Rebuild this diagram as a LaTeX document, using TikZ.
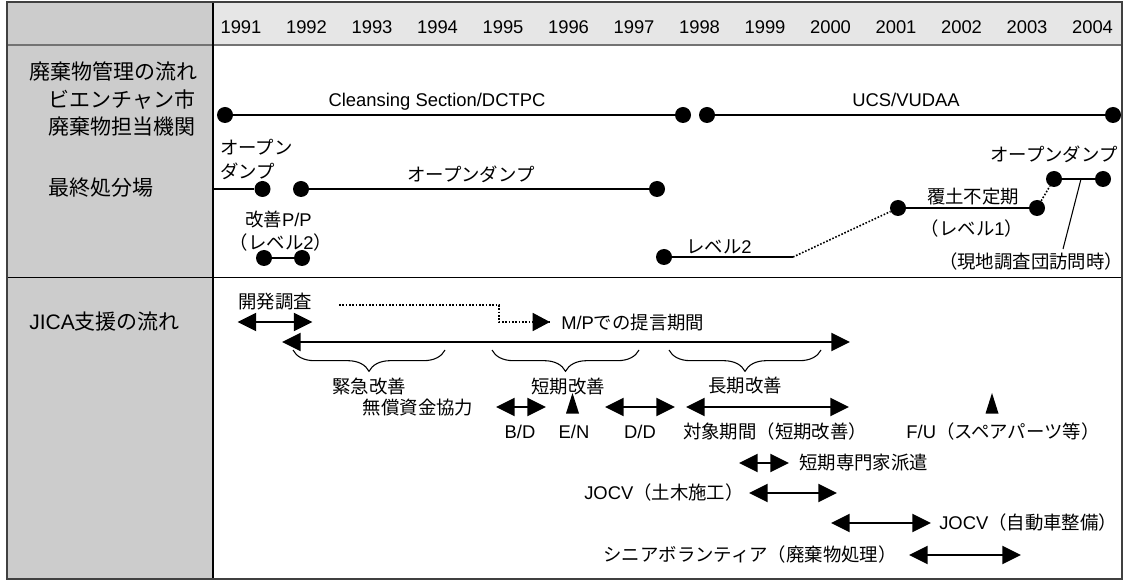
\documentclass[tikz,border=0pt]{standalone}
\usepackage{fontspec}
\setmainfont{Liberation Sans}
\newfontfamily\jp{Noto Sans CJK JP}
\newcommand{\J}[1]{{\jp #1}}
\usetikzlibrary{arrows.meta,decorations.pathreplacing}
\definecolor{colgray}{HTML}{CCCCCC}
\definecolor{headgray}{HTML}{E6E6E6}
\definecolor{framegray}{HTML}{404040}
\tikzset{
  txt/.style={inner sep=0pt, text height=12pt, text depth=2pt, font=\fontsize{13.8pt}{16pt}\selectfont},
  lbl/.style={inner sep=0pt, anchor=west, text height=13.5pt, text depth=2.3pt, font=\fontsize{15.75pt}{18pt}\selectfont},
  dot/.style={circle, fill=black, inner sep=0pt, minimum size=12pt},
  seg/.style={line width=1.6pt},
  dotline/.style={line width=1.2pt, dash pattern=on 1.2pt off 1.3pt},
  dbl/.style={line width=1.6pt, {Triangle[length=14pt,width=13.5pt]}-{Triangle[length=14pt,width=13.5pt]}},
  brc/.style={line width=0.8pt, decorate, decoration={brace, mirror, amplitude=16pt}},
}
\begin{document}
\begin{tikzpicture}[x=0.75pt,y=-0.75pt]
\useasboundingbox (0,0) rectangle (1123,580);
% backgrounds
\fill[white] (0,0) rectangle (1123,580);
\fill[colgray] (7,2) rectangle (213,579);
\fill[headgray] (213,2) rectangle (1122,45);
% grid lines
\draw[line width=1.5pt, draw=black!55] (7,45) -- (1122,45);
\draw[line width=0.9pt] (7,277.5) -- (1122,277.5);
\draw[line width=0.9pt] (213,2) -- (213,579);
\draw[line width=1.8pt, draw=framegray] (7,2) rectangle (1122,579);

% years
\foreach \yr [count=\i from 0] in {1991,...,2004}{
  \node[txt] (y\yr) at ({241+65.5*\i},26.5) {\yr};
}

% left column labels
\node[lbl] (l1) at (29,72) {\J{廃棄物管理の流れ}};
\node[lbl] (l2) at (48,100) {\J{ビエンチャン市}};
\node[lbl] (l3) at (48,127) {\J{廃棄物担当機関}};
\node[lbl] (l4) at (48,188) {\J{最終処分場}};
\node[lbl] (l5) at (29,322) {JICA\J{支援の流れ}};

% row 1: agencies
\node[dot] (a1) at (225,115) {};
\node[dot] (a2) at (683,115) {};
\node[dot] (a3) at (707,115) {};
\node[dot] (a4) at (1113,115) {};
\draw[seg] (a1) -- (a2);
\draw[seg] (a3) -- (a4);
\node[txt] (tcs) at (437,100) {Cleansing Section/DCTPC};
\node[txt] (tucs) at (906,100) {UCS/VUDAA};

% row 2: final disposal
\coordinate (s0) at (213,189);
\node[dot] (s1) at (262.5,189) {};
\node[dot] (s2) at (301,189) {};
\node[dot] (s3) at (657,189) {};
\draw[seg] (s0) -- (s1);
\draw[seg] (s2) -- (s3);
\node[txt, anchor=west] (od1) at (220,148) {\J{オープン}};
\node[txt, anchor=west] (od2) at (220,172) {\J{ダンプ}};
\node[txt] (od3) at (471,175) {\J{オープンダンプ}};

\node[dot] (p1) at (264,258) {};
\node[dot] (p2) at (302,258) {};
\draw[seg] (p1) -- (p2);
\node[txt] (pp1) at (278.5,220) {\J{改善}P/P};
\node[txt] (pp2) at (281,243) {\J{（レベル}2\J{）}};

\node[dot] (v1) at (664,257) {};
\coordinate (v2) at (793,257);
\node[dot] (v3) at (898,208) {};
\node[dot] (v4) at (1037,208) {};
\node[dot] (v5) at (1054,179) {};
\node[dot] (v6) at (1103,179) {};
\draw[seg] (v1) -- (v2);
\draw[dotline] (v2) -- (v3);
\draw[seg] (v3) -- (v4);
\draw[dotline] (v4) -- (v5);
\draw[seg] (v5) -- (v6);
\node[txt] (lv2) at (719,247) {\J{レベル}2};
\node[txt] (fd) at (973,197) {\J{覆土不定期}};
\node[txt] (lv1) at (972,229) {\J{（レベル}1\J{）}};
\node[txt] (od4) at (1054,155) {\J{オープンダンプ}};
\node[txt] (visit) at (1031,262) {\J{（現地調査団訪問時）}};
\coordinate (vm) at (1081,179);
\coordinate (vb) at (1063,249);
\draw[line width=0.8pt] (vm) -- (vb);

% row 3: JICA
\node[txt] (kc) at (275,302) {\J{開発調査}};
\coordinate (kc1) at (237.5,322);
\coordinate (kc2) at (312.5,322);
\draw[dbl] (kc1) -- (kc2);

\node[txt, anchor=west] (mp) at (561,323) {M/P\J{での提言期間}};
\coordinate (d1) at (339,305);
\coordinate (d2) at (499,305);
\coordinate (d3) at (499,322);
\coordinate (d4) at (550,322);
\coordinate (d5) at (540,322);
\draw[dotline] (d1) -- (d2) -- (d3) -- (d4);
\draw[line width=1.2pt, -{Triangle[length=13pt,width=13.5pt]}] (d5) -- (d4);

\coordinate (m1) at (282,342);
\coordinate (m2) at (850,342);
\draw[dbl] (m1) -- (m2);

\coordinate (b1a) at (293,350); \coordinate (b1b) at (445,350);
\coordinate (b2a) at (492,350); \coordinate (b2b) at (639,350);
\coordinate (b3a) at (669,350); \coordinate (b3b) at (821,350);
\draw[brc] (b1a) -- (b1b);
\draw[brc] (b2a) -- (b2b);
\draw[brc] (b3a) -- (b3b);
\node[txt] (kk) at (369,387) {\J{緊急改善}};
\node[txt] (tk) at (568,387) {\J{短期改善}};
\node[txt] (ck) at (745,386) {\J{長期改善}};
\node[txt] (mu) at (418,408) {\J{無償資金協力}};

\coordinate (bd1) at (496,407); \coordinate (bd2) at (546,407);
\draw[dbl] (bd1) -- (bd2);
\node[txt] (bd) at (520,432) {B/D};
\coordinate (en) at (572.5,393);
\fill (en) -- ++(6.5,20.5) -- ++(-13,0) -- cycle;
\node[txt] (ent) at (574,432) {E/N};
\coordinate (dd1) at (605,407); \coordinate (dd2) at (675,407);
\draw[dbl] (dd1) -- (dd2);
\node[txt] (dd) at (640,432) {D/D};
\coordinate (tp1) at (686,407); \coordinate (tp2) at (849,407);
\draw[dbl] (tp1) -- (tp2);
\node[txt] (tp) at (775,432) {\J{対象期間（短期改善）}};
\coordinate (fu) at (992,393);
\fill (fu) -- ++(6.5,20.5) -- ++(-13,0) -- cycle;
\node[txt] (fut) at (1003,432) {F/U\J{（スペアパーツ等）}};

\coordinate (se1) at (739,463); \coordinate (se2) at (789,463);
\draw[dbl] (se1) -- (se2);
\node[txt, anchor=west] (se) at (799,463) {\J{短期専門家派遣}};

\coordinate (jc1) at (749,493); \coordinate (jc2) at (837,493);
\draw[dbl] (jc1) -- (jc2);
\node[txt, anchor=east] (jc) at (744,493) {JOCV\J{（土木施工）}};

\coordinate (ja1) at (831,523); \coordinate (ja2) at (931,523);
\draw[dbl] (ja1) -- (ja2);
\node[txt, anchor=west] (ja) at (939,523) {JOCV\J{（自動車整備）}};

\coordinate (sv1) at (909,555); \coordinate (sv2) at (1021,555);
\draw[dbl] (sv1) -- (sv2);
\node[txt, anchor=east] (sv) at (897,555) {\J{シニアボランティア（廃棄物処理）}};
\end{tikzpicture}
\end{document}
